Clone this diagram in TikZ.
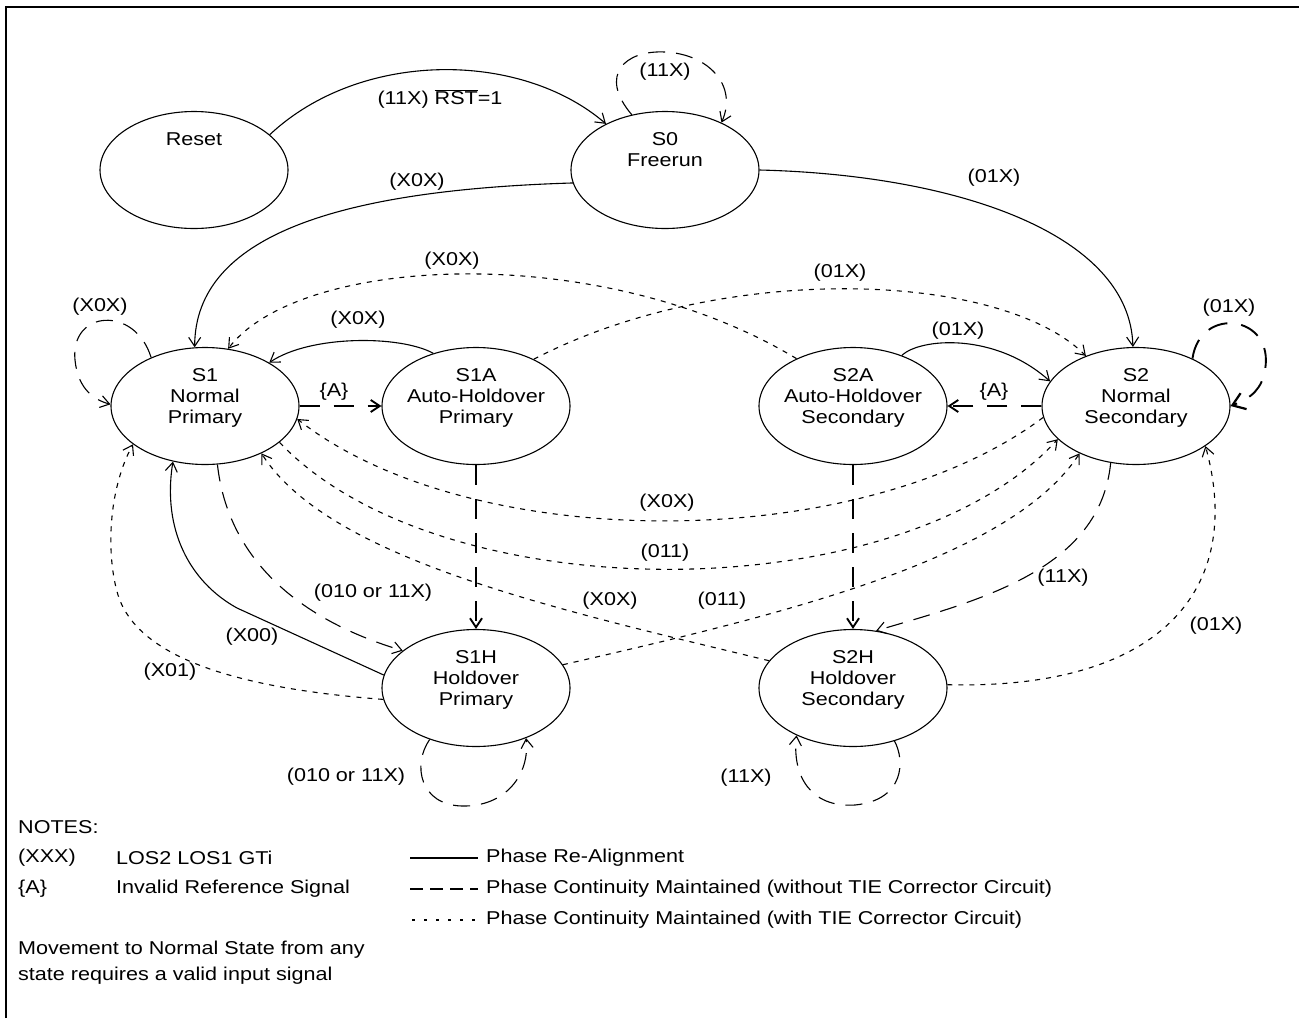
\documentclass[tikz,border=0pt]{standalone}
\usepackage{fontspec}
\setmainfont{Liberation Sans}[FakeStretch=1.16]
\usetikzlibrary{arrows.meta,shapes.geometric}
\newcommand{\diagfont}{\fontsize{18.6pt}{21pt}\selectfont}
\begin{document}
\begin{tikzpicture}[x=1pt,y=-1pt,
  every node/.style={font=\diagfont, inner sep=0pt},
  stnode/.style={draw, ellipse, line width=1.1pt, minimum width=188pt, minimum height=117pt},
  stext/.style={align=center, anchor=north},
  solidc/.style={line width=1.1pt},
  hdash/.style={line width=1.9pt, dash pattern=on 20pt off 14pt},
  ldash/.style={line width=1.1pt, dash pattern=on 17pt off 11pt},
  sdot/.style={line width=1.1pt, dash pattern=on 5pt off 6pt},
  arr/.style={-{Straight Barb[length=9pt,width=12pt]}},
  bigarr/.style={-{Straight Barb[length=12pt,width=17pt,line width=2.2pt]}}
]
\useasboundingbox (0,0) rectangle (1299,1018);
\draw[line width=2pt] (6,1018) -- (6,7) -- (1299,7);

% states
\node[stnode] (Reset) at (194,170) {};
\node[stext] (Resett) at (194,132) {Reset};
\node[stnode] (S0) at (665,170) {};
\node[stext] (S0t) at (665,132) {S0\\Freerun};
\node[stnode] (S1) at (205,406) {};
\node[stext] (S1t) at (205,368) {S1\\Normal\\Primary};
\node[stnode] (S1A) at (476,406) {};
\node[stext] (S1At) at (476,368) {S1A\\Auto-Holdover\\Primary};
\node[stnode] (S2A) at (853,406) {};
\node[stext] (S2At) at (853,368) {S2A\\Auto-Holdover\\Secondary};
\node[stnode] (S2) at (1136,406) {};
\node[stext] (S2t) at (1136,368) {S2\\Normal\\Secondary};
\node[stnode] (S1H) at (476,688) {};
\node[stext] (S1Ht) at (476,650) {S1H\\Holdover\\Primary};
\node[stnode] (S2H) at (853,688) {};
\node[stext] (S2Ht) at (853,650) {S2H\\Holdover\\Secondary};

% Reset -> S0
\draw[solidc, arr] (Reset.25) .. controls (360,50) and (520,50) .. (S0.142);
\node (l1) at (440,99) {(11X) $\overline{\hbox{RST}}$=1};
% S0 self loop
\draw[ldash, arr] (S0.121) .. controls (598,75) and (625,50) .. (665,52) .. controls (708,54) and (738,85) .. (S0.40);
\node (l2) at (665,72) {(11X)};
% S0 -> S1
\draw[solidc, arr] (S0.188) .. controls (340,190) and (195,235) .. (S1.100);
\node (l3) at (417,182) {(X0X)};
% S0 -> S2
\draw[solidc, arr] (S0.east) .. controls (960,175) and (1130,235) .. (S2.93);
\node (l4) at (994,178) {(01X)};
% S1 self loop
\draw[ldash, arr] (S1.138) .. controls (135,305) and (70,310) .. (75,360) .. controls (78,390) and (95,400) .. (S1.179);
\node (l5) at (100,307) {(X0X)};
% S1A -> S1
\draw[solidc, arr] (S1A.129) .. controls (400,335) and (310,335) .. (S1.34);
\node (l6) at (358,320) {(X0X)};
% S1 -> S1A
\draw[hdash, arr] (S1.east) -- (S1A.west);
\node (l7) at (334,392) {\{A\}};
% S2A -> S1
\draw[sdot, arr] (S2A.140) .. controls (600,240) and (300,255) .. (S1.68);
\node (l8) at (452,261) {(X0X)};
% S1A -> S2
\draw[sdot, arr] (S1A.39) .. controls (720,262) and (1000,270) .. (S2.135);
\node (l9) at (840,273) {(01X)};
% S2A -> S2
\draw[solidc, arr] (S2A.46) .. controls (920,338) and (995,332) .. (S2.164);
\node (l10) at (958,331) {(01X)};
% S2 -> S2A
\draw[hdash, arr] (S2.west) -- (S2A.east);
\node (l11) at (994,392) {\{A\}};
% S2 self loop
\draw[hdash, bigarr] (S2.40) .. controls (1200,305) and (1275,315) .. (1265,370) .. controls (1262,388) and (1252,398) .. (S2.east);
\node (l12) at (1229,308) {(01X)};
% verticals
\draw[hdash, arr] (S1A.south) -- (S1H.north);
\draw[hdash, arr] (S2A.south) -- (S2H.north);
% S2 -> S1 (X0X)
\draw[sdot, arr] (S2.187) .. controls (860,555) and (470,555) .. (S1.352);
\node (l13) at (667,503) {(X0X)};
% S1 -> S2 (011)
\draw[sdot, arr] (S1.334) .. controls (440,612) and (900,612) .. (S2.203);
\node (l14) at (665,553) {(011)};
% S2H -> S1 (X0X)
\draw[sdot, arr] (S2H.162) .. controls (560,610) and (330,560) .. (S1.320);
\node (l15) at (610,601) {(X0X)};
% S1H -> S2 (011)
\draw[sdot, arr] (S1H.15) .. controls (780,615) and (1010,560) .. (S2.220);
\node (l16) at (722,601) {(011)};
% S2H -> S2 (01X)
\draw[sdot, arr] (S2H.2) .. controls (1160,690) and (1245,590) .. (S2.330);
\node (l17) at (1216,626) {(01X)};
% S1H -> S1 (X00)
\draw[solidc, arr] (S1H.172) -- (237,608) .. controls (190,582) and (162,530) .. (S1.240);
\node (l18) at (252,637) {(X00)};
% S1H -> S1 (X01)
\draw[sdot, arr] (S1H.187) .. controls (260,690) and (140,665) .. (118,595) .. controls (106,555) and (108,490) .. (S1.208);
\node (l19) at (170,672) {(X01)};
% S1 -> S1H (010 or 11X)
\draw[ldash, arr] (S1.282) .. controls (228,560) and (300,620) .. (S1H.153);
\node (l20) at (373,593) {(010 or 11X)};
% S2 -> S2H (11X)
\draw[ldash, arr] (S2.246) .. controls (1100,570) and (980,600) .. (S2H.68);
\node (l21) at (1063,578) {(11X)};
% S1H self loop
\draw[ldash, arr] (S1H.228) .. controls (412,765) and (420,805) .. (462,806) .. controls (505,807) and (530,775) .. (S1H.315);
\node (l22) at (346,777) {(010 or 11X)};
% S2H self loop
\draw[ldash, arr] (S2H.308) .. controls (905,760) and (905,800) .. (855,805) .. controls (810,808) and (792,775) .. (S2H.220);
\node (l23) at (746,778) {(11X)};

% legend
\node[anchor=west] (notes) at (18,827) {NOTES:};
\node[anchor=west] (n1) at (18,858) {(XXX)};
\node[anchor=west] (n1b) at (116,858) {LOS2 LOS1 GTi};
\node[anchor=west] (n2) at (18,889) {\{A\}};
\node[anchor=west] (n2b) at (116,889) {Invalid Reference Signal};
\draw[line width=1.5pt] (410,858) -- (478,858);
\node[anchor=west] (t1) at (486,858) {Phase Re-Alignment};
\draw[line width=1.3pt, dash pattern=on 13pt off 7pt] (410,889) -- (478,889);
\node[anchor=west] (t2) at (486,889) {Phase Continuity Maintained (without TIE Corrector Circuit)};
\draw[line width=1.3pt, dash pattern=on 3pt off 9pt] (412,920) -- (478,920);
\node[anchor=west] (t3) at (486,920) {Phase Continuity Maintained (with TIE Corrector Circuit)};
\node[anchor=west] (m1) at (18,950) {Movement to Normal State from any};
\node[anchor=west] (m2) at (18,976) {state requires a valid input signal};
\end{tikzpicture}
\end{document}
